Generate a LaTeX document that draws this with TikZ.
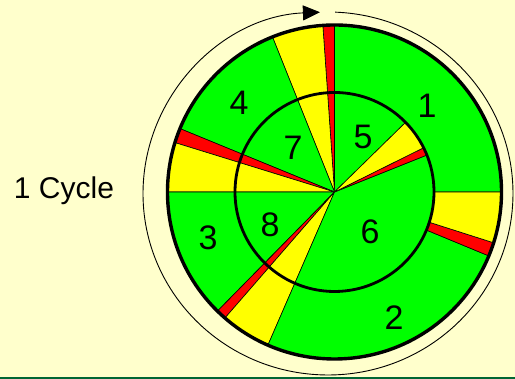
\documentclass[tikz,border=0pt]{standalone}
\usepackage{fontspec}
\setmainfont{Liberation Sans}
\usetikzlibrary{arrows.meta}

\definecolor{fondo}{HTML}{FFFFCC}
\definecolor{verde}{HTML}{00FF00}
\definecolor{amarillo}{HTML}{FFFF00}
\definecolor{rojo}{HTML}{FF0000}
\definecolor{verdeoscuro}{HTML}{006633}

\begin{document}
\begin{tikzpicture}[x=1pt,y=1pt]
            % Parámetros: centro del disco y radios exterior e interior
            \def\R{167pt}
            \def\r{99.5pt}
            \coordinate (O) at (334.5,187);

            % Fondo y línea inferior
            \useasboundingbox (0,0) rectangle (515,379);
            \fill[fondo] (0,0) rectangle (515,379);
            \fill[verdeoscuro] (0,0) rectangle (515,2.2);

            % Sectores del anillo exterior (inicio/fin/color)
            \foreach \a/\b/\c in {0/90/verde, 90/94/rojo, 94/111.8/amarillo, 111.8/157.7/verde,
                                  157.7/162.8/rojo, 162.8/180/amarillo, 180/225.5/verde, 225.5/229/rojo,
                                  229/246.5/amarillo, 246.5/337.5/verde, 337.5/342.3/rojo, 342.3/360/amarillo}
              \filldraw[fill=\c, line width=0.6pt] (O) -- ++(\a:\R) arc[start angle=\a, end angle=\b, radius=\R] -- cycle;

            % Sectores del disco interior (tapan los del anillo)
            \foreach \a/\b/\c in {44.4/90/verde, 90/94/rojo, 94/111.8/amarillo, 111.8/157.7/verde,
                                  157.7/162.8/rojo, 162.8/180/amarillo, 180/225.5/verde, 225.5/229/rojo,
                                  229/246.5/amarillo, 246.5/381.8/verde, 21.8/26.4/rojo, 26.4/44.4/amarillo}
              \filldraw[fill=\c, line width=0.6pt] (O) -- ++(\a:\r) arc[start angle=\a, end angle=\b, radius=\r] -- cycle;

            % Bordes gruesos de los dos círculos
            \draw[line width=3.4pt] (O) circle [radius=\R];
            \draw[line width=2.8pt] (O) circle [radius=\r];

            % Números de los sectores
            \node[font=\fontsize{34}{40}\selectfont] (s1) at (427,273) {1};
            \node[font=\fontsize{34}{40}\selectfont] (s2) at (394,61) {2};
            \node[font=\fontsize{34}{40}\selectfont] (s3) at (208,141) {3};
            \node[font=\fontsize{34}{40}\selectfont] (s4) at (239,276) {4};
            \node[font=\fontsize{34}{40}\selectfont] (s5) at (363,242) {5};
            \node[font=\fontsize{34}{40}\selectfont] (s6) at (370,147) {6};
            \node[font=\fontsize{34}{40}\selectfont] (s7) at (293,231) {7};
            \node[font=\fontsize{34}{40}\selectfont] (s8) at (270,154) {8};

            % Texto del ciclo
            \node[anchor=base, font=\fontsize{30}{36}\selectfont] (ciclo) at (64,180) {1 Cycle};

            % Arco fino con flecha alrededor del disco
            \draw[line width=0.9pt, -{Triangle[length=17pt,width=15pt]}] (328,185.5) ++(87.8:185pt and 181.5pt)
              arc[start angle=87.8, end angle=-267.5, x radius=185pt, y radius=181.5pt];
        \end{tikzpicture}
\end{document}
